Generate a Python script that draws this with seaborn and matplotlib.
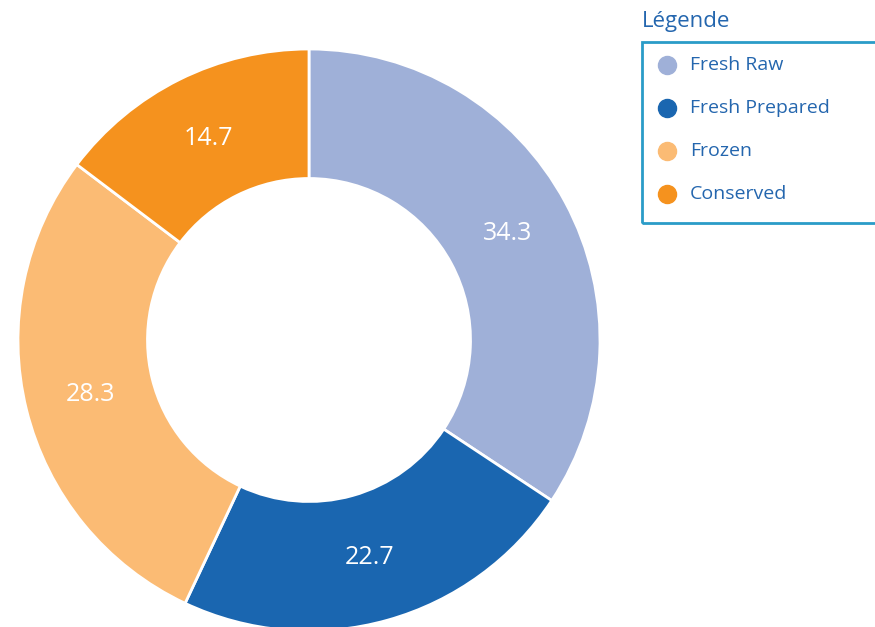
import seaborn as sns
import matplotlib.pyplot as plt
from matplotlib.patches import Rectangle
from matplotlib.lines import Line2D

# Data
categories = ['Fresh Raw', 'Fresh Prepared', 'Frozen', 'Conserved']
shares = [34.3, 22.7, 28.3, 14.7]
colors = ['#9FB0D8', '#1A66B0', '#FBBB74', '#F5921E']
legend_title = 'Légende'

sns.set_theme(style='white')
plt.rcParams['font.family'] = ['Open Sans', 'DejaVu Sans']
text_blue = '#2466AE'

fig = plt.figure(figsize=(8.75, 6.27), dpi=100)
W, H = 875, 627
# donut centred at (309, 340) px from top-left, radius 291 px
ax = fig.add_axes([18 / W, (H - 340 - 291) / H, 582 / W, 582 / H])

wedges, texts, autotexts = ax.pie(
    shares, colors=colors, startangle=90, counterclock=False,
    autopct=lambda p: f'{p:.1f}', pctdistance=0.775,
    wedgeprops=dict(width=0.445, edgecolor='white', linewidth=2),
    textprops=dict(color='white', fontsize=18))
ax.set_xlim(-1, 1)
ax.set_ylim(-1, 1)
ax.set_aspect('equal')
ax.axis('off')

# Legend box, runs off the right edge
fig.text(642 / W, 1 - 21 / H, legend_title, color=text_blue, fontsize=16,
         ha='left', va='center')
fig.patches.append(Rectangle((642 / W, 1 - 223 / H), 260 / W, 181 / H,
                             transform=fig.transFigure, fill=False,
                             edgecolor='#2A9CC8', linewidth=2))
for i, (cat, col) in enumerate(zip(categories, colors)):
    y = 1 - (65 + 43 * i) / H
    fig.lines.append(Line2D([667 / W], [y], transform=fig.transFigure,
                            marker='o', markersize=13, color=col,
                            linestyle='none'))
    fig.text(690 / W, y, cat, color=text_blue, fontsize=14,
             ha='left', va='center')

fig.savefig('out.png', dpi=100)
